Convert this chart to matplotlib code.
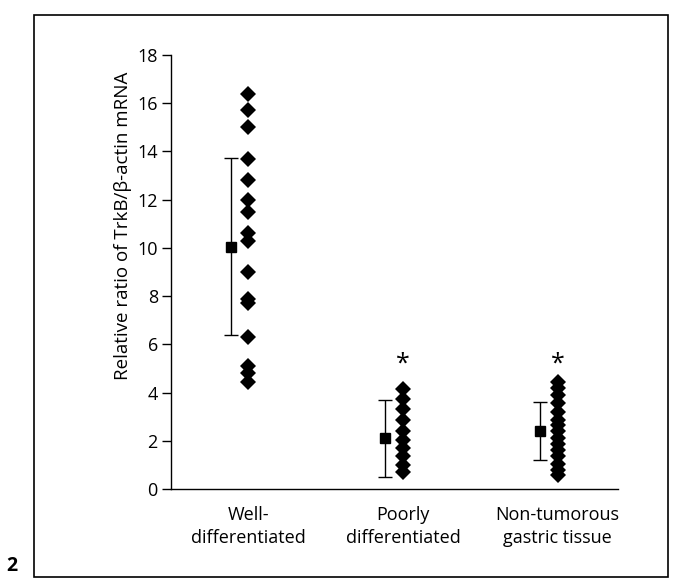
import matplotlib
matplotlib.use("Agg")
import matplotlib.pyplot as plt
from matplotlib.patches import Rectangle

plt.rcParams['font.family'] = ['Open Sans', 'DejaVu Sans']

categories = ["Well-\ndifferentiated", "Poorly\ndifferentiated", "Non-tumorous\ngastric tissue"]

well_values = [16.4, 15.7, 15.0, 13.7, 12.8, 12.0, 11.5, 10.6, 10.3, 9.0, 7.9, 7.7, 6.3, 5.1, 4.8, 4.45]
poorly_values = [4.15, 3.75, 3.3, 2.85, 2.4, 2.05, 1.7, 1.35, 1.0, 0.7]
nontumor_values = [4.45, 4.2, 3.9, 3.55, 3.2, 2.85, 2.65, 2.4, 2.1, 1.85, 1.6, 1.35, 1.05, 0.8, 0.6]

group_means = [10.05, 2.1, 2.4]
group_sd = [3.67, 1.6, 1.2]
significance = ["", "*", "*"]
star_level = 5.2

yticks = [0, 2, 4, 6, 8, 10, 12, 14, 16, 18]
ylabel = "Relative ratio of TrkB/β-actin mRNA"
panel_label = "2"

W, H = 688, 579
fig = plt.figure(figsize=(W / 100, H / 100), dpi=100)

# axes placement in pixels
ax_left, ax_right, ax_top, ax_bottom = 171, 618, 55, 489
ax = fig.add_axes([ax_left / W, 1 - ax_bottom / H, (ax_right - ax_left) / W, (ax_bottom - ax_top) / H])

groups = [well_values, poorly_values, nontumor_values]
positions = [1, 2, 3]
offset = 0.115

for pos, vals in zip(positions, groups):
    ax.plot([pos] * len(vals), vals, linestyle='none', marker='D', markersize=8.6,
            color='black', markeredgewidth=0, clip_on=False)

ax.errorbar([p - offset for p in positions], group_means, yerr=group_sd, fmt='s',
            color='black', markersize=7.6, capsize=4.8, elinewidth=1.0, capthick=1.0)

for pos, s in zip(positions, significance):
    if s:
        ax.text(pos, star_level, s, ha='center', va='center', fontsize=18, color='black')

ax.set_xlim(0.5, 3.39)
ax.set_ylim(0, 18)
ax.set_yticks(yticks)
ax.set_yticklabels([str(t) for t in yticks], fontsize=13)
ax.set_xticks(positions)
ax.set_xticklabels(categories, fontsize=13, linespacing=1.4)
ax.tick_params(axis='x', length=0, pad=12)
ax.tick_params(axis='y', length=6.5, width=1, direction='out', pad=3)
for side in ['top', 'right']:
    ax.spines[side].set_visible(False)
for side in ['left', 'bottom']:
    ax.spines[side].set_linewidth(1.0)

# y-axis title placed at its measured position
fig.text(123 / W, 1 - 226 / H, ylabel, rotation=90, fontsize=13.5, ha='center', va='center')

# surrounding box and panel label
box_l, box_r, box_t, box_b = 34, 668, 15, 577
fig.patches.append(Rectangle((box_l / W, 1 - box_b / H), (box_r - box_l) / W, (box_b - box_t) / H,
                             transform=fig.transFigure, fill=False, edgecolor='black', linewidth=1.2))
fig.text(12 / W, 1 - 566 / H, panel_label, fontsize=14, fontweight='bold', ha='center', va='center')

fig.savefig("out.png", dpi=100)
